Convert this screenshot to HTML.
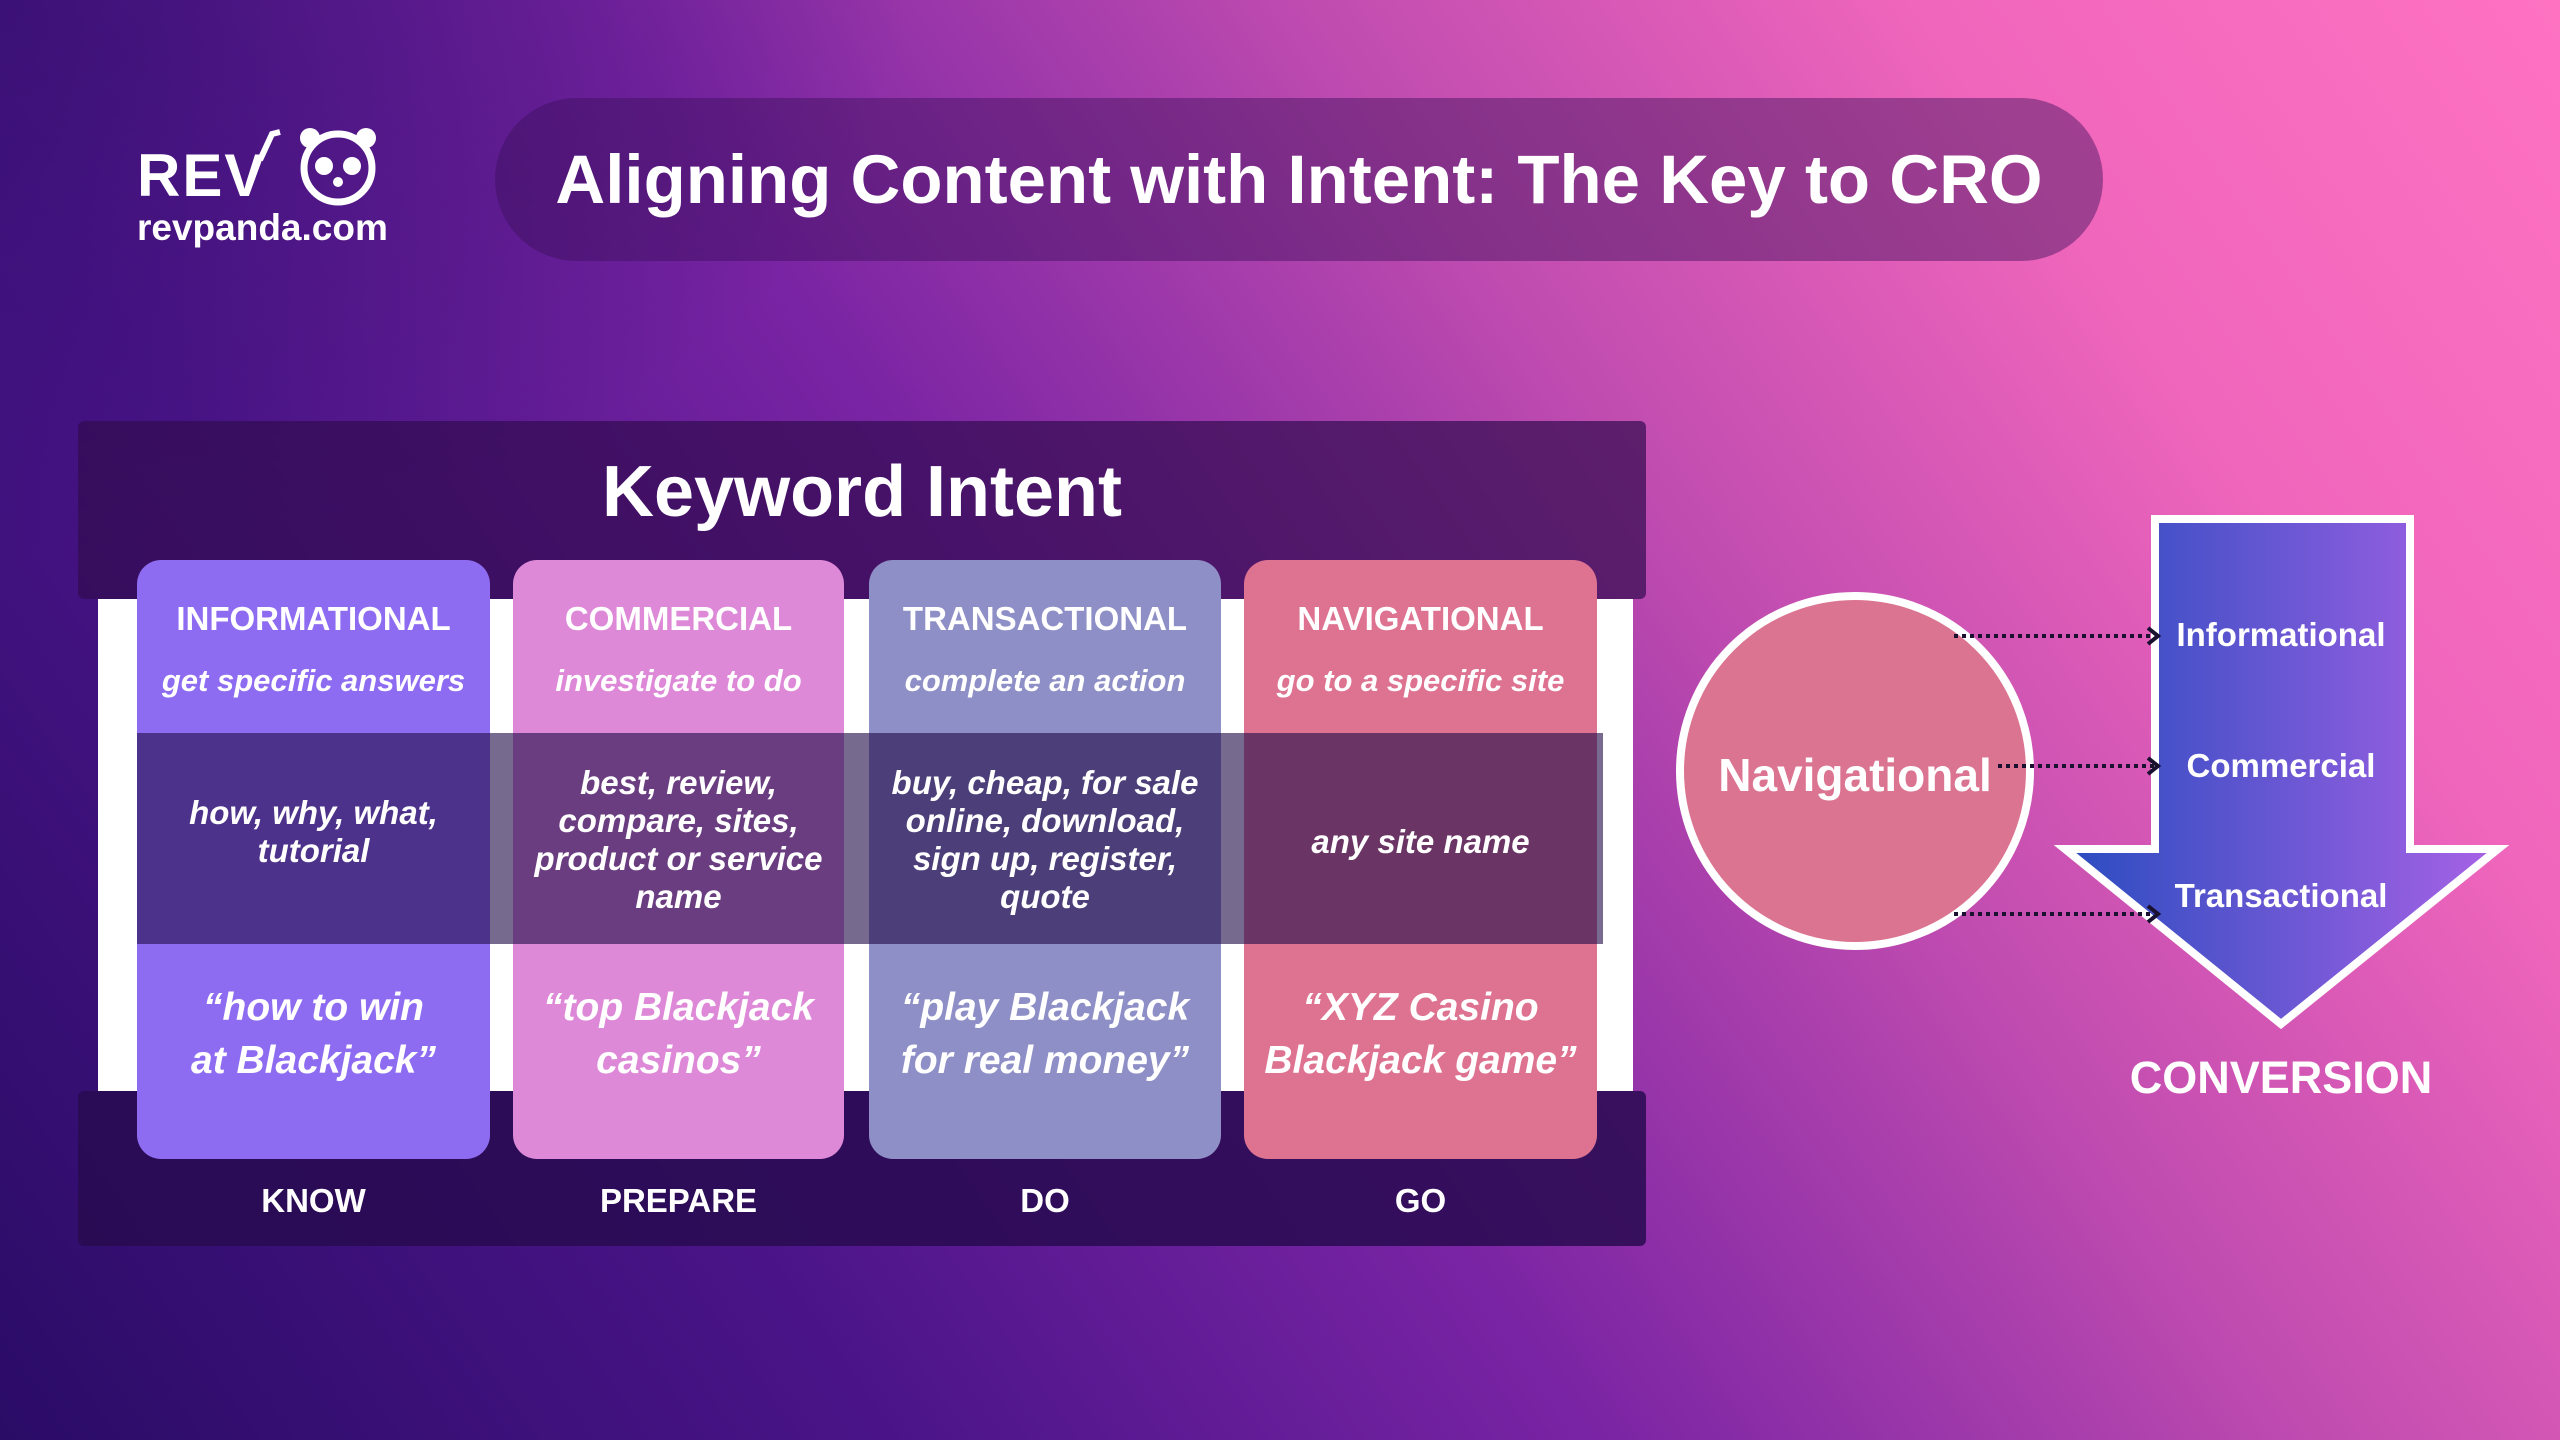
<!DOCTYPE html>
<html><head><meta charset="utf-8"><style>
*{margin:0;padding:0;box-sizing:border-box}
body{width:2560px;height:1440px;overflow:hidden;position:relative;font-family:"Liberation Sans",sans-serif;color:#fff;
background:linear-gradient(55deg,#2a0c66 0%,#4a1488 25%,#7a24a4 45%,#c04cb0 65%,#f066bc 82%,#ff72c2 100%);}
.bg2{position:absolute;inset:0;background:radial-gradient(ellipse 1300px 800px at 0% 0%,rgba(40,12,100,0.55),rgba(40,12,100,0) 70%);}
.abs{position:absolute}
.t{position:absolute;white-space:nowrap;text-align:center;font-weight:bold}
.col{position:absolute;top:560px;height:599px;border-radius:24px}
.h{font-size:33px;top:600px}
.s{font-size:31px;top:663px;font-style:italic}
.m{font-size:33px;font-style:italic;line-height:38px;white-space:normal}
.q{font-size:39px;font-style:italic;line-height:53px;white-space:normal}
.b{font-size:33px;top:1182px}
</style></head><body>
<div class="bg2"></div>
<!-- logo -->
<div class="t" style="left:137px;top:146px;font-size:60px;font-weight:900;letter-spacing:2px;line-height:60px">REV</div>
<svg class="abs" style="left:250px;top:120px" width="140" height="90" viewBox="0 0 140 90">
<path d="M10 40 L22 14 L30 12" stroke="#fff" stroke-width="6" fill="none"/>
<circle cx="88" cy="48" r="34" fill="none" stroke="#fff" stroke-width="7"/>
<circle cx="60" cy="18" r="10" fill="#fff"/><circle cx="116" cy="18" r="10" fill="#fff"/>
<circle cx="74" cy="46" r="9" fill="#fff"/><circle cx="102" cy="46" r="9" fill="#fff"/>
<circle cx="88" cy="62" r="5" fill="#fff"/>
</svg>
<div class="t" style="left:137px;top:206px;font-size:37px;line-height:44px">revpanda.com</div>
<!-- title pill -->
<div class="abs" style="left:495px;top:98px;width:1608px;height:163px;border-radius:82px;background:rgba(60,15,90,0.45)"></div>
<div class="t" style="left:495px;width:1608px;top:138px;font-size:69px;line-height:84px">Aligning Content with Intent: The Key to CRO</div>
<!-- keyword panel -->
<div class="abs" style="left:78px;top:421px;width:1568px;height:178px;background:rgba(50,12,80,0.7);border-radius:6px"></div>
<div class="abs" style="left:98px;top:599px;width:1535px;height:492px;background:#fff"></div>
<div class="abs" style="left:78px;top:1091px;width:1568px;height:155px;background:rgba(40,10,80,0.85);border-radius:6px"></div>
<div class="t" style="left:78px;width:1568px;top:450px;font-size:72px;line-height:84px">Keyword Intent</div>
<div class="col" style="left:137px;width:353px;background:#8e6cf2"></div>
<div class="col" style="left:513px;width:331px;background:#de88d8"></div>
<div class="col" style="left:869px;width:352px;background:#8e8fc6"></div>
<div class="col" style="left:1244px;width:353px;background:#de7391"></div>
<div class="abs" style="left:137px;top:733px;width:1466px;height:211px;background:rgba(35,15,75,0.62)"></div>
<div class="t h" style="left:137px;width:353px">INFORMATIONAL</div>
<div class="t h" style="left:513px;width:331px">COMMERCIAL</div>
<div class="t h" style="left:869px;width:352px">TRANSACTIONAL</div>
<div class="t h" style="left:1244px;width:353px">NAVIGATIONAL</div>
<div class="t s" style="left:137px;width:353px">get specific answers</div>
<div class="t s" style="left:513px;width:331px">investigate to do</div>
<div class="t s" style="left:869px;width:352px">complete an action</div>
<div class="t s" style="left:1244px;width:353px">go to a specific site</div>
<div class="t m" style="left:137px;width:353px;top:794px">how, why, what,<br>tutorial</div>
<div class="t m" style="left:513px;width:331px;top:764px">best, review,<br>compare, sites,<br>product or service<br>name</div>
<div class="t m" style="left:869px;width:352px;top:764px">buy, cheap, for sale<br>online, download,<br>sign up, register,<br>quote</div>
<div class="t m" style="left:1244px;width:353px;top:823px">any site name</div>
<div class="t q" style="left:137px;width:353px;top:981px">“how to win<br>at Blackjack”</div>
<div class="t q" style="left:513px;width:331px;top:981px">“top Blackjack<br>casinos”</div>
<div class="t q" style="left:869px;width:352px;top:981px">“play Blackjack<br>for real money”</div>
<div class="t q" style="left:1244px;width:353px;top:981px">“XYZ Casino<br>Blackjack game”</div>
<div class="t b" style="left:137px;width:353px">KNOW</div>
<div class="t b" style="left:513px;width:331px">PREPARE</div>
<div class="t b" style="left:869px;width:352px">DO</div>
<div class="t b" style="left:1244px;width:353px">GO</div>
<!-- right diagram -->
<svg class="abs" style="left:0;top:0" width="2560" height="1440">
<defs><linearGradient id="g" x1="0" x2="1"><stop offset="0" stop-color="#2a4cc0"/><stop offset="1" stop-color="#a862e6"/></linearGradient></defs>
<ellipse cx="1855" cy="771" rx="175" ry="175" fill="#db7491" stroke="#fff" stroke-width="8"/>
<polygon points="2155,519 2410,519 2410,849 2498,849 2281,1024 2065,849 2155,849" fill="url(#g)" stroke="#fff" stroke-width="8"/>
<g stroke="#1a1030" stroke-width="4" stroke-dasharray="4,4" fill="none">
<line x1="1954" y1="636" x2="2154" y2="636"/><line x1="1998" y1="766" x2="2154" y2="766"/><line x1="1954" y1="914" x2="2154" y2="914"/></g>
<g stroke="#1a1030" stroke-width="4" fill="none">
<polyline points="2148,628 2158,636 2148,644"/><polyline points="2148,758 2158,766 2148,774"/><polyline points="2148,906 2158,914 2148,922"/></g>
</svg>
<div class="t" style="left:1680px;width:350px;top:748px;font-size:46px">Navigational</div>
<div class="t" style="left:2131px;width:300px;top:616px;font-size:33px">Informational</div>
<div class="t" style="left:2131px;width:300px;top:747px;font-size:33px">Commercial</div>
<div class="t" style="left:2131px;width:300px;top:877px;font-size:33px">Transactional</div>
<div class="t" style="left:2081px;width:400px;top:1052px;font-size:45px">CONVERSION</div>
</body></html>
